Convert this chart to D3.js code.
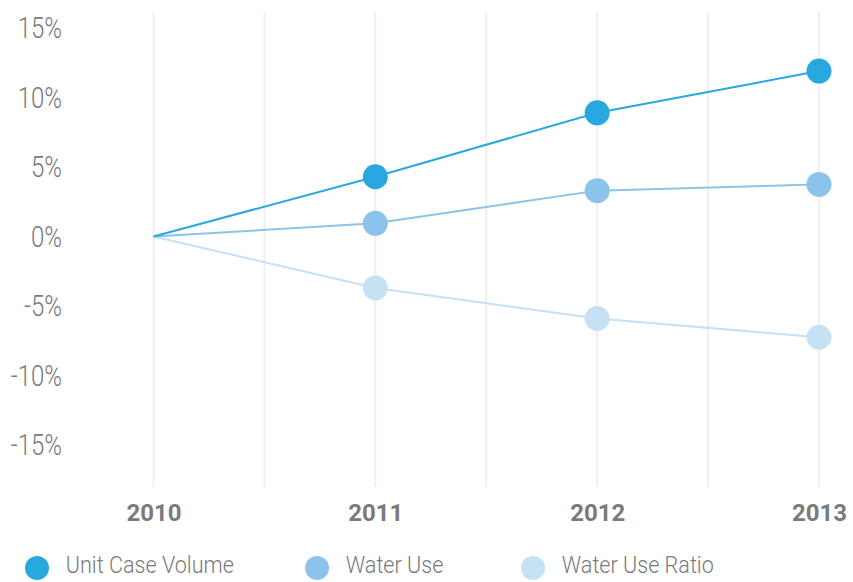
<!DOCTYPE html>
<html>
<head>
<meta charset="utf-8">
<script src="https://cdn.jsdelivr.net/npm/d3@7"></script>
<style>
  body { margin: 0; background: #fff; }
  svg { display: block; }
</style>
</head>
<body>
<div id="chart"></div>
<script>
// data (% change vs 2010)
let years = ["2010", "2011", "2012", "2013"]
let unitCaseVolume = [0, 4.3, 8.9, 11.9]
let waterUse = [0, 0.95, 3.3, 3.75]
let waterUseRatio = [0, -3.7, -5.9, -7.25]
let yTicks = [-15, -10, -5, 0, 5, 10, 15]
let seriesNames = ["Unit Case Volume", "Water Use", "Water Use Ratio"]
let seriesColors = ["#29a8e0", "#8cc3ea", "#c6e0f4"]

let width = 853, height = 582
let svg = d3.select("#chart").append("svg")
            .attr("width", width)
            .attr("height", height)

let xScale = d3.scalePoint()
            .domain(years)
            .range([153.5, 819])

let yScale = d3.scaleLinear()
            .domain([-15, 15])
            .range([445, 28])

// vertical grid: one at each year and one half way between
let gridX = []
years.forEach(function(y, i){
  gridX.push(xScale(y))
  if (i < years.length - 1) gridX.push(xScale(y) + xScale.step() / 2)
})
svg.append("g").selectAll("line").data(gridX).enter()
  .append("line")
  .attr("x1", d => d).attr("x2", d => d)
  .attr("y1", 12).attr("y2", 487)
  .style("stroke", "#efefef")
  .style("stroke-width", 2)

// y axis labels only
let yAxis = d3.axisLeft(yScale)
            .tickValues(yTicks)
            .tickFormat(d => d + "%")
            .tickSize(0)
            .tickPadding(0)
let yG = svg.append("g")
            .attr("transform", "translate(62,0)")
            .call(yAxis)
yG.select(".domain").remove()
yG.selectAll("text")
  .attr("x", 0)
  .attr("transform", "scale(0.8,1)")
  .style("font-family", "Roboto")
  .style("font-weight", 300)
  .style("font-size", "30px")
  .style("fill", "#7a7a7a")

// x axis labels
let xAxis = d3.axisBottom(xScale).tickSize(0).tickPadding(0)
let xG = svg.append("g")
            .attr("transform", "translate(0,504)")
            .call(xAxis)
xG.select(".domain").remove()
xG.selectAll("text")
  .style("font-family", "Roboto")
  .style("font-weight", 700)
  .style("font-size", "24px")
  .style("fill", "#7a7a7a")

let series = [unitCaseVolume, waterUse, waterUseRatio]
let line = d3.line()
            .x((d, i) => xScale(years[i]))
            .y(d => yScale(d))

// draw lighter series first so the darker ones sit on top
for (let s = series.length - 1; s >= 0; s--){
  let g = svg.append("g")
  g.append("path")
    .datum(series[s])
    .attr("d", line)
    .style("fill", "none")
    .style("stroke", seriesColors[s])
    .style("stroke-width", 2)
  g.selectAll("circle").data(series[s].slice(1)).enter()
    .append("circle")
    .attr("cx", (d, i) => xScale(years[i + 1]))
    .attr("cy", d => yScale(d))
    .attr("r", 12.5)
    .style("fill", seriesColors[s])
}

// legend
let legendX = [37, 317, 533]
let legend = svg.append("g").selectAll("g").data(seriesNames).enter()
            .append("g")
            .attr("transform", (d, i) => "translate(" + legendX[i] + ",568)")
legend.append("circle")
  .attr("r", 12)
  .style("fill", (d, i) => seriesColors[i])
legend.append("text")
  .attr("x", 32)
  .attr("y", 5)
  .attr("transform", "scale(0.9,1)")
  .text(d => d)
  .style("font-family", "Roboto")
  .style("font-weight", 300)
  .style("font-size", "24px")
  .style("fill", "#7a7a7a")
</script>
</body>
</html>
